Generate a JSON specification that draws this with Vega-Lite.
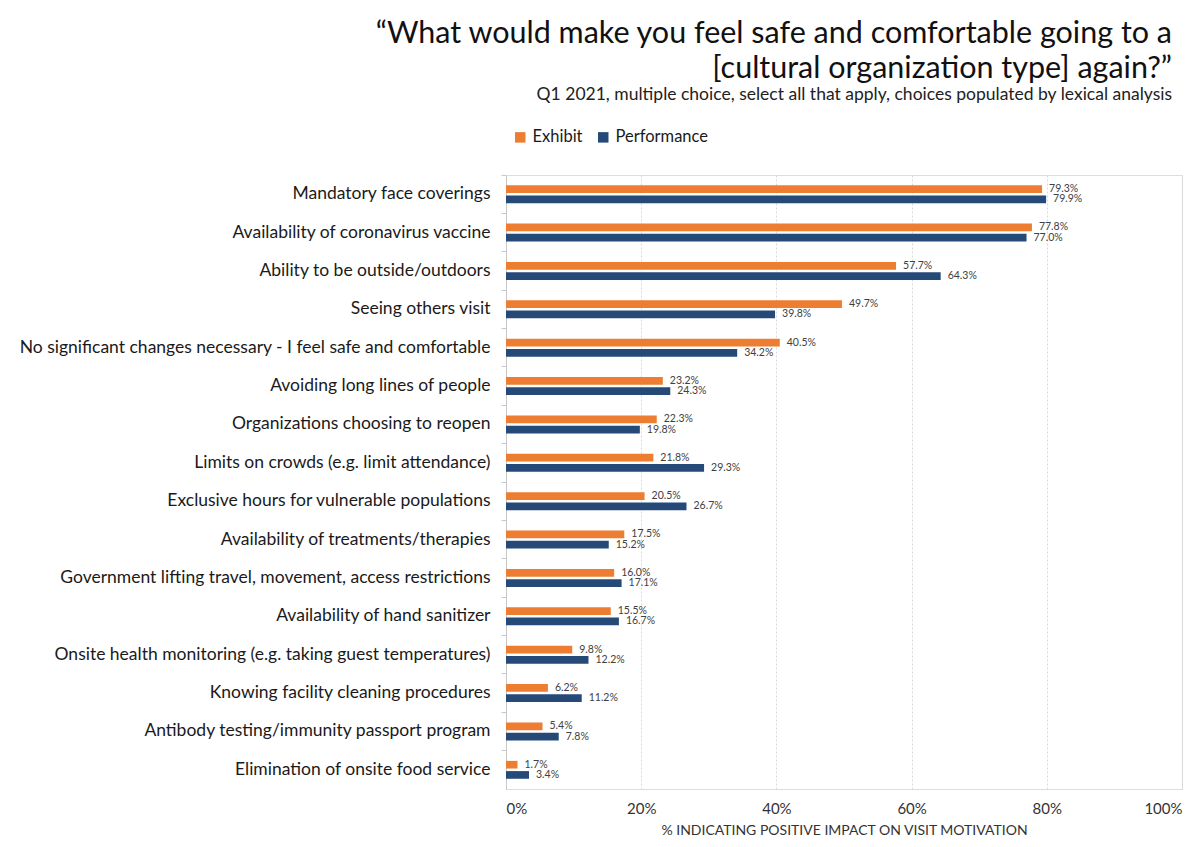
{
  "$schema": "https://vega.github.io/schema/vega-lite/v6.json",
  "width": 676,
  "height": 614,
  "autosize": "none",
  "padding": {"left": 506, "top": 175, "right": 19, "bottom": 58},
  "background": "white",
  "title": {
    "text": ["“What would make you feel safe and comfortable going to a", "[cultural organization type] again?”"],
    "subtitle": "Q1 2021, multiple choice, select all that apply, choices populated by lexical analysis",
    "anchor": "end",
    "frame": "group",
    "dx": -10,
    "offset": 26,
    "font": "Lato",
    "fontSize": 30.5,
    "fontWeight": "normal",
    "lineHeight": 35,
    "color": "#111111",
    "subtitleFont": "Lato",
    "subtitleFontSize": 17.5,
    "subtitleColor": "#222222",
    "subtitlePadding": 1
  },
  "data": {
    "values": [
      {"item": "Mandatory face coverings", "series": "Exhibit", "value": 0.793},
      {"item": "Mandatory face coverings", "series": "Performance", "value": 0.799},
      {"item": "Availability of coronavirus vaccine", "series": "Exhibit", "value": 0.778},
      {"item": "Availability of coronavirus vaccine", "series": "Performance", "value": 0.770},
      {"item": "Ability to be outside/outdoors", "series": "Exhibit", "value": 0.577},
      {"item": "Ability to be outside/outdoors", "series": "Performance", "value": 0.643},
      {"item": "Seeing others visit", "series": "Exhibit", "value": 0.497},
      {"item": "Seeing others visit", "series": "Performance", "value": 0.398},
      {"item": "No significant changes necessary - I feel safe and comfortable", "series": "Exhibit", "value": 0.405},
      {"item": "No significant changes necessary - I feel safe and comfortable", "series": "Performance", "value": 0.342},
      {"item": "Avoiding long lines of people", "series": "Exhibit", "value": 0.232},
      {"item": "Avoiding long lines of people", "series": "Performance", "value": 0.243},
      {"item": "Organizations choosing to reopen", "series": "Exhibit", "value": 0.223},
      {"item": "Organizations choosing to reopen", "series": "Performance", "value": 0.198},
      {"item": "Limits on crowds (e.g. limit attendance)", "series": "Exhibit", "value": 0.218},
      {"item": "Limits on crowds (e.g. limit attendance)", "series": "Performance", "value": 0.293},
      {"item": "Exclusive hours for vulnerable populations", "series": "Exhibit", "value": 0.205},
      {"item": "Exclusive hours for vulnerable populations", "series": "Performance", "value": 0.267},
      {"item": "Availability of treatments/therapies", "series": "Exhibit", "value": 0.175},
      {"item": "Availability of treatments/therapies", "series": "Performance", "value": 0.152},
      {"item": "Government lifting travel, movement, access restrictions", "series": "Exhibit", "value": 0.160},
      {"item": "Government lifting travel, movement, access restrictions", "series": "Performance", "value": 0.171},
      {"item": "Availability of hand sanitizer", "series": "Exhibit", "value": 0.155},
      {"item": "Availability of hand sanitizer", "series": "Performance", "value": 0.167},
      {"item": "Onsite health monitoring (e.g. taking guest temperatures)", "series": "Exhibit", "value": 0.098},
      {"item": "Onsite health monitoring (e.g. taking guest temperatures)", "series": "Performance", "value": 0.122},
      {"item": "Knowing facility cleaning procedures", "series": "Exhibit", "value": 0.062},
      {"item": "Knowing facility cleaning procedures", "series": "Performance", "value": 0.112},
      {"item": "Antibody testing/immunity passport program", "series": "Exhibit", "value": 0.054},
      {"item": "Antibody testing/immunity passport program", "series": "Performance", "value": 0.078},
      {"item": "Elimination of onsite food service", "series": "Exhibit", "value": 0.017},
      {"item": "Elimination of onsite food service", "series": "Performance", "value": 0.034}
    ]
  },
  "encoding": {
    "y": {
      "field": "item",
      "type": "nominal",
      "sort": null,
      "scale": {"paddingInner": 0, "paddingOuter": 0},
      "axis": {
        "title": null,
        "labelFont": "Lato",
        "labelFontSize": 17.5,
        "labelColor": "#1a1a1a",
        "labelPadding": 11,
        "labelLimit": 520,
        "bandPosition": 0,
        "ticks": true,
        "tickSize": 5,
        "tickColor": "#c8c8c8",
        "domainColor": "#c8c8c8",
        "grid": false
      }
    },
    "yOffset": {
      "field": "series",
      "type": "nominal",
      "scale": {"paddingInner": 0.25, "paddingOuter": 1.2}
    },
    "x": {
      "field": "value",
      "type": "quantitative",
      "scale": {"domain": [0, 1], "nice": false},
      "axis": {
        "title": "% INDICATING POSITIVE IMPACT ON VISIT MOTIVATION",
        "titleFont": "Lato",
        "titleFontSize": 14,
        "titleFontWeight": "normal",
        "titleColor": "#333333",
        "titlePadding": 7,
        "format": ".0%",
        "values": [0, 0.2, 0.4, 0.6, 0.8, 1],
        "labelFont": "Lato",
        "labelFontSize": 15,
        "labelColor": "#333333",
        "labelPadding": 12,
        "domain": false,
        "ticks": false,
        "grid": true,
        "gridColor": "#d9d9d9",
        "gridDash": [2, 2],
        "gridWidth": 1
      }
    }
  },
  "layer": [
    {
      "mark": {"type": "bar"},
      "encoding": {
        "color": {
          "field": "series",
          "type": "nominal",
          "scale": {"domain": ["Exhibit", "Performance"], "range": ["#ED7D31", "#264A78"]},
          "legend": {
            "title": null,
            "orient": "none",
            "legendX": 6,
            "legendY": -46,
            "direction": "horizontal",
            "symbolType": "square",
            "symbolSize": 110,
            "symbolStrokeWidth": 0,
            "labelFont": "Lato",
            "labelFontSize": 16.5,
            "labelColor": "#1a1a1a",
            "columnPadding": 12,
            "labelOffset": 4
          }
        }
      }
    },
    {
      "mark": {"type": "text", "align": "left", "baseline": "middle", "dx": 7, "font": "Lato", "fontSize": 10.5, "color": "#404040"},
      "encoding": {
        "text": {"field": "value", "type": "quantitative", "format": ".1%"}
      }
    }
  ]
}
